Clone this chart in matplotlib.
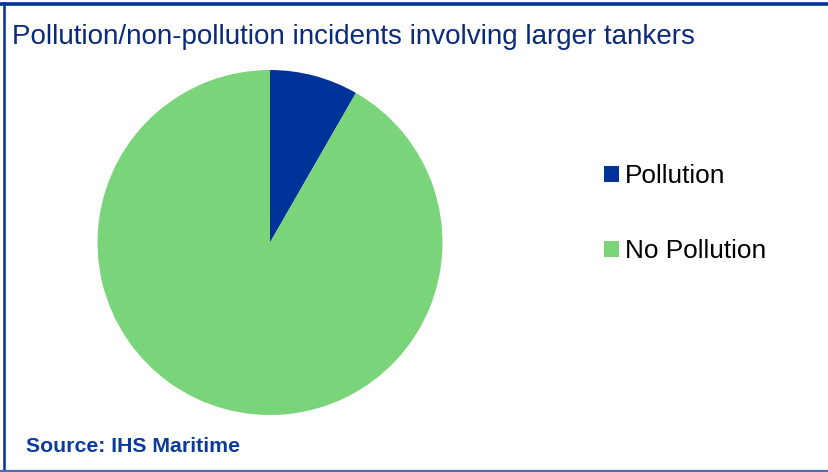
import matplotlib
matplotlib.use("Agg")
import matplotlib.pyplot as plt
from matplotlib.lines import Line2D

labels = ["Pollution", "No Pollution"]
shares = [8.3, 91.7]
colors = ["#003399", "#79D47A"]

title = "Pollution/non-pollution incidents involving larger tankers"
source = "Source: IHS Maritime"

W, H = 829, 472
plt.rcParams["font.family"] = ["Liberation Sans", "DejaVu Sans"]
fig = plt.figure(figsize=(W / 100, H / 100), dpi=100)

# pie axes, square in pixels
cx, cy, r = 270, 242.5, 172.5
ax = fig.add_axes([(cx - r) / W, (H - cy - r) / H, 2 * r / W, 2 * r / H])
wedges, _ = ax.pie(shares, colors=colors, startangle=90, counterclock=False,
                   radius=1, wedgeprops=dict(linewidth=0))
ax.set_xlim(-1, 1)
ax.set_ylim(-1, 1)
ax.axis("off")

fig.text(12 / W, 1 - 37 / H, title, fontsize=20.0, color="#0A2A7A",
         va="center", ha="left")
fig.text(26 / W, 1 - 446 / H, source, fontsize=15.3, fontweight="bold",
         color="#0B3A9E", va="center", ha="left")

leg = fig.legend(wedges, labels, loc="upper left",
                 bbox_to_anchor=(591 / W, 1 - 151 / H), frameon=False,
                 fontsize=18.9, handlelength=0.55, handleheight=0.55,
                 handletextpad=0.25, labelspacing=1.95, borderpad=0)

# frame lines
fig.add_artist(Line2D([0, 1], [1 - 3.5 / H] * 2, transform=fig.transFigure,
                      color="#003399", linewidth=2.6))
fig.add_artist(Line2D([4.5 / W] * 2, [0, 1 - 3 / H], transform=fig.transFigure,
                      color="#003399", linewidth=1.8))
fig.add_artist(Line2D([0, 1], [1 - 470.5 / H] * 2, transform=fig.transFigure,
                      color="#4A6DB5", linewidth=1.6))

fig.savefig("out.png", dpi=100)
